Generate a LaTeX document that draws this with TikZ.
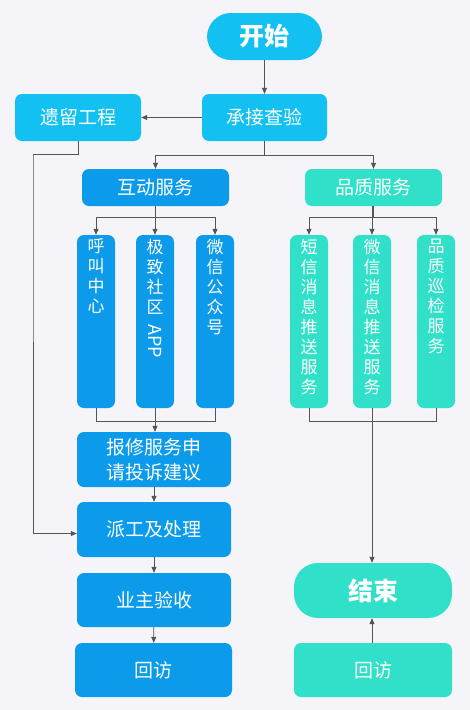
\documentclass[tikz,border=0pt]{standalone}
\usepackage{fontspec}
\setmainfont{Noto Sans CJK SC}
\usepackage{tikz}
\usetikzlibrary{arrows.meta,positioning}

\definecolor{bggray}{HTML}{F5F4F8}
\definecolor{startcyan}{HTML}{12C1F1}
\definecolor{flowblue}{HTML}{0B9BEA}
\definecolor{flowteal}{HTML}{30E0C8}
\definecolor{linegray}{HTML}{555555}

\begin{document}
\begin{tikzpicture}[x=1pt, y=-1pt,
  box/.style={rounded corners=7pt, inner sep=0pt, text=white,
    font=\fontsize{19}{25}\selectfont, align=center},
  pill/.style={rounded corners=24pt, inner sep=0pt, text=white,
    font=\fontsize{25}{30}\selectfont\bfseries},
  vbox/.style={rounded corners=7pt, inner sep=0pt, minimum width=38pt, minimum height=173pt},
  vtext/.style={inner sep=0pt, text=white, align=center, font=\fontsize{17}{20}\selectfont},
  arr/.style={draw=linegray, line width=0.8pt, -{Triangle[length=6pt,width=5pt]}},
  ln/.style={draw=linegray, line width=0.8pt}]
  \fill[bggray] (0,0) rectangle (470,710);
  \useasboundingbox (0,0) rectangle (470,710);

  % top
  \node[pill, fill=startcyan, minimum width=115pt, minimum height=47pt] (start) at (264.5,36.5) {开始};
  \node[box, fill=startcyan, minimum width=125pt, minimum height=47pt] (check) at (264.5,117.5) {承接查验};
  \node[box, fill=startcyan, minimum width=126pt, minimum height=47pt] (legacy) at (78,117.5) {遗留工程};
  \node[box, fill=flowblue, minimum width=147pt, minimum height=37pt] (interact) at (155.5,187.5) {互动服务};
  \node[box, fill=flowteal, minimum width=137pt, minimum height=37pt] (quality) at (373.5,187.5) {品质服务};

  % channels
  \node[vbox, fill=flowblue] (call) at (96,321.5) {};
  \node[vbox, fill=flowblue] (app) at (155,321.5) {};
  \node[vbox, fill=flowblue] (wechat) at (215,321.5) {};
  \node[vtext, below=4pt of call.north] (callt) {呼\\叫\\中\\心};
  \node[vtext, below=4pt of app.north] (appt) {极\\致\\社\\区\\[-9pt]\fontsize{18}{20}\selectfont\rotatebox{-90}{APP}};
  \node[vtext, below=4pt of wechat.north] (wechatt) {微\\信\\公\\众\\号};

  \node[vbox, fill=flowteal] (sms) at (309,321.5) {};
  \node[vbox, fill=flowteal] (wxmsg) at (372,321.5) {};
  \node[vbox, fill=flowteal] (patrol) at (436,321.5) {};
  \node[vtext, below=4pt of sms.north] (smst) {短\\信\\消\\息\\推\\送\\服\\务};
  \node[vtext, below=4pt of wxmsg.north] (wxmsgt) {微\\信\\消\\息\\推\\送\\服\\务};
  \node[vtext, below=4pt of patrol.north] (patrolt) {品\\质\\巡\\检\\服\\务};

  % lower left
  \node[box, fill=flowblue, minimum width=154pt, minimum height=55pt] (repair) at (154,459.5) {报修服务申\\请投诉建议};
  \node[box, fill=flowblue, minimum width=154pt, minimum height=55pt] (dispatch) at (154,529.5) {派工及处理};
  \node[box, fill=flowblue, minimum width=154pt, minimum height=54pt] (accept) at (154,600) {业主验收};
  \node[box, fill=flowblue, minimum width=157pt, minimum height=54pt] (visitl) at (153.5,670) {回访};

  % lower right
  \node[pill, fill=flowteal, minimum width=158pt, minimum height=55pt] (finish) at (373,590.5) {结束};
  \node[box, fill=flowteal, minimum width=158pt, minimum height=54pt] (visitr) at (373,670) {回访};

  % connectors
  \draw[arr] (start) -- (check);
  \draw[arr] (check) -- (legacy);
  \draw[arr] (check.south) -- ++(0,14) -| (interact.north);
  \draw[arr] (check.south) -- ++(0,14) -| (quality.north);
  \draw[arr] (interact.south) -- ++(0,11) -| (call.north);
  \draw[arr] (interact.south) -- ++(0,11) -| (wechat.north);
  \draw[arr] (interact.south -| app.north) -- (app.north);
  \draw[arr] (quality.south) -- ++(0,11) -| (sms.north);
  \draw[arr] (quality.south) -- ++(0,11) -| (patrol.north);
  \draw[arr] (quality.south -| wxmsg.north) -- (wxmsg.north);

  \draw[ln] (call.south) -- ++(0,13) -| (wechat.south);
  \draw[arr] (app.south) -- (app.south |- repair.north);
  \draw[arr] (repair) -- (dispatch);
  \draw[arr] (dispatch) -- (accept);
  \draw[arr] (accept) -- (visitl);
  \coordinate (bend) at (33,154);
  \draw[arr] (legacy.south) -- ++(0,13) -| (bend) |- ([yshift=-4pt]dispatch.west);

  \draw[ln] (sms.south) -- ++(0,13) -| (patrol.south);
  \draw[arr] (wxmsg.south) -- (wxmsg.south |- finish.north);
  \draw[arr] (visitr.north -| wxmsg.south) -- (wxmsg.south |- finish.south);
\end{tikzpicture}
\end{document}
